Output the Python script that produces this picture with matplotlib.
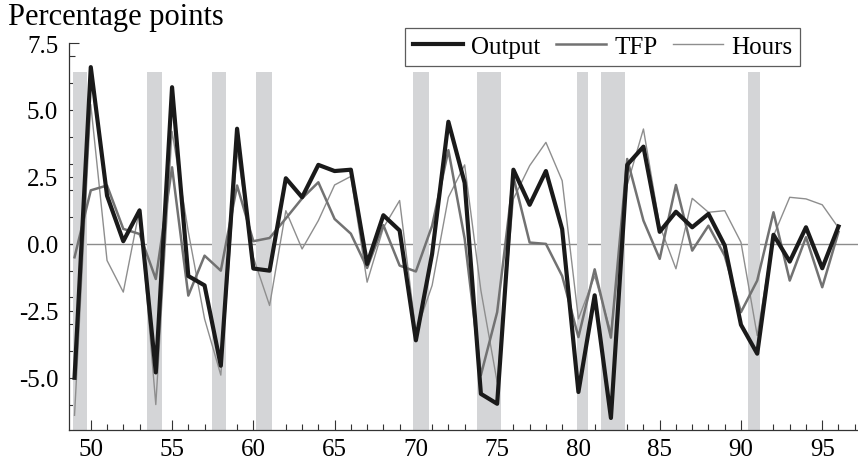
import matplotlib.pyplot as plt
import numpy as np
from matplotlib.ticker import MultipleLocator, FormatStrFormatter

plt.rcParams['font.family'] = ['Liberation Serif', 'DejaVu Serif']

years = list(range(49, 97))

output = [-5.0, 6.6, 1.8, 0.1, 1.25, -4.8, 5.85, -1.2, -1.55, -4.55,
          4.3, -0.92, -1.0, 2.45, 1.74, 2.95, 2.72, 2.77, -0.75, 1.07,
          0.5, -3.6, -0.37, 4.56, 2.28, -5.6, -5.97, 2.77, 1.46, 2.72,
          0.55, -5.53, -1.92, -6.5, 2.95, 3.63, 0.45, 1.2, 0.62, 1.12,
          -0.06, -3.02, -4.1, 0.34, -0.66, 0.62, -0.91, 0.65]

tfp = [-0.5, 2.0, 2.18, 0.56, 0.37, -1.31, 2.86, -1.93, -0.44, -1.0,
       2.18, 0.1, 0.22, 0.95, 1.7, 2.3, 0.93, 0.38, -0.9, 0.7,
       -0.81, -1.03, 0.68, 3.5, 0.2, -4.9, -2.55, 2.5, 0.05, 0.0,
       -1.2, -3.48, -0.95, -3.5, 3.17, 0.87, -0.56, 2.2, -0.25, 0.68,
       -0.44, -2.55, -1.37, 1.18, -1.37, 0.25, -1.62, 0.45]

hours = [-6.4, 5.2, -0.62, -1.8, 1.3, -6.0, 4.2, 0.45, -2.8, -4.9,
         3.5, -0.5, -2.3, 1.24, -0.19, 0.87, 2.2, 2.52, -1.43, 0.6,
         1.62, -3.3, -1.55, 1.74, 2.95, -1.74, -5.16, 1.68, 2.92, 3.79,
         2.36, -2.8, -1.2, -3.3, 2.2, 4.29, 0.68, -0.93, 1.7, 1.18,
         1.24, 0.06, -3.42, 0.3, 1.74, 1.68, 1.46, 0.6]

# recession periods (fractional years)
rec_start = [48.89, 53.44, 57.47, 60.16, 69.83, 73.76, 79.91, 81.41, 90.46]
rec_end = [49.75, 54.38, 58.30, 61.12, 70.79, 75.21, 80.59, 82.84, 91.20]

fig = plt.figure(figsize=(8.58, 4.6), dpi=100)
ax = fig.add_axes([0.0808, 0.063, 0.9192, 0.8413])

ymin, ymax = -6.95, 7.5
bar_top = 6.43

ax.axhline(0, color='#8c8c8c', lw=1.0, zorder=1)
for s, e in zip(rec_start, rec_end):
    ax.fill_between([s, e], ymin, bar_top, color='#d4d5d7', lw=0, zorder=2)

ax.plot(years, hours, color='#8e8e8e', lw=1.0, label='Hours', zorder=3)
ax.plot(years, tfp, color='#727272', lw=1.8, label='TFP', zorder=4)
ax.plot(years, output, color='#1a1a1a', lw=3.0, label='Output', zorder=5)

ax.set_xlim(48.68, 97.2)
ax.set_ylim(ymin, ymax)

ax.xaxis.set_major_locator(MultipleLocator(5))
ax.xaxis.set_minor_locator(MultipleLocator(1))
ax.yaxis.set_major_locator(MultipleLocator(2.5))
ax.yaxis.set_minor_locator(MultipleLocator(1))
ax.yaxis.set_major_formatter(FormatStrFormatter('%.1f'))

ax.tick_params(which='both', direction='in', labelsize=18, color='#333333')
ax.tick_params(which='major', length=7, width=0.8)
ax.tick_params(which='minor', length=4, width=0.8)
ax.tick_params(axis='x', pad=6)
ax.tick_params(axis='y', pad=8)

for side in ['top', 'right']:
    ax.spines[side].set_visible(False)
for side in ['left', 'bottom']:
    ax.spines[side].set_color('#333333')
    ax.spines[side].set_linewidth(0.9)

handles, labels = ax.get_legend_handles_labels()
order = [2, 1, 0]
leg = fig.legend([handles[i] for i in order], [labels[i] for i in order],
                 loc='upper left', bbox_to_anchor=(405 / 858, 1 - 29 / 460),
                 ncol=3, fontsize=18, frameon=True, fancybox=False,
                 edgecolor='#333333', borderpad=0.3, handlelength=2.0,
                 handletextpad=0.35, columnspacing=0.6, borderaxespad=0)
leg.get_frame().set_linewidth(0.9)

fig.text(8 / 858, 1 - 18 / 460, 'Percentage points', fontsize=22, va='center', ha='left')

fig.savefig('out.png', dpi=100)
